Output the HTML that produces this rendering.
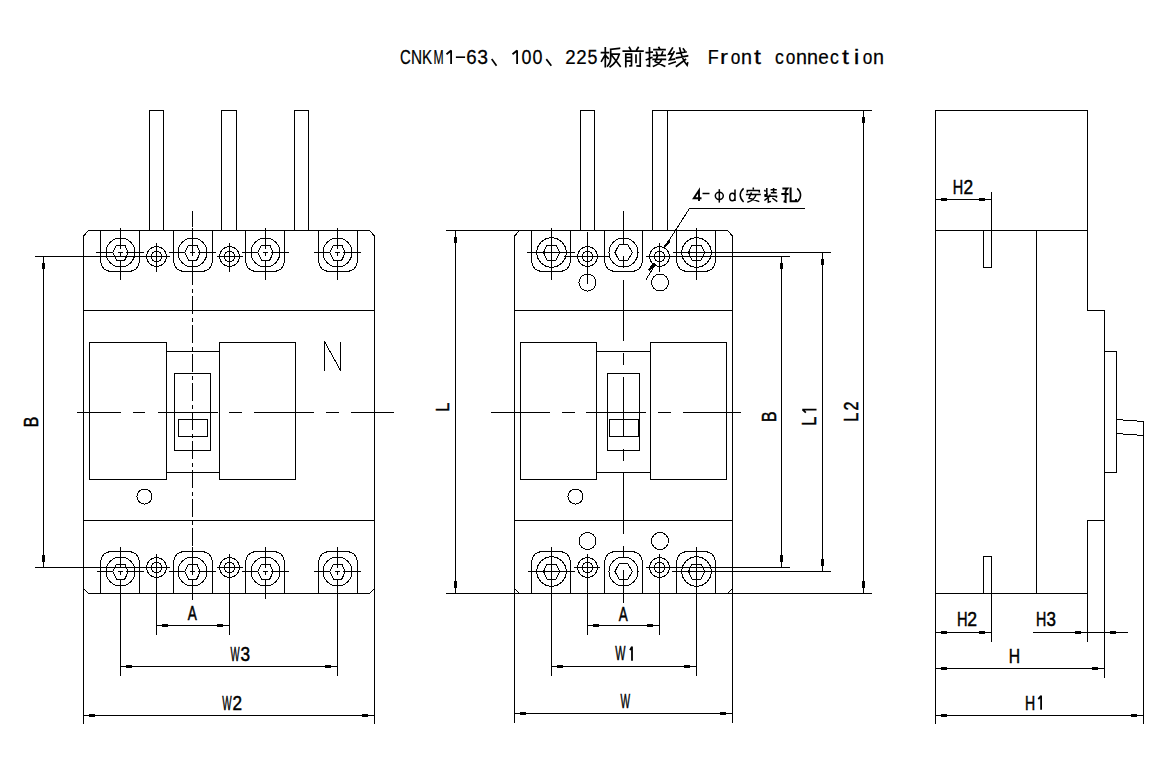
<!DOCTYPE html>
<html><head><meta charset="utf-8"><style>
html,body{margin:0;padding:0;background:#fff;}
body{width:1176px;height:760px;overflow:hidden;}
svg{display:block;}
.s line,.s path,.s circle,.s rect,.s polygon{fill:none;stroke:#000;stroke-width:1;}
.s line,.s rect,.s path,.s circle,.s polygon{shape-rendering:crispEdges;}
.s .f{fill:#000;stroke:none;}
.t{font-family:"Liberation Sans",sans-serif;fill:#000;stroke:#000;stroke-width:0.5;}
.g1{fill:none;stroke:#000;stroke-width:1.8;}
.tt{font-family:"Liberation Sans",sans-serif;fill:#000;stroke:#000;stroke-width:0.25;}
.m{font-family:"Liberation Mono",monospace;fill:#000;stroke:#000;stroke-width:0.35;}
.cj path{fill:none;stroke:#000;stroke-width:1.7;stroke-linecap:square;}
.cj2 path,.cj2 ellipse{fill:none;stroke:#000;stroke-width:1.5;}
.cj3 path{fill:none;stroke:#000;stroke-width:2;}
</style></head><body>
<svg width="1176" height="760" viewBox="0 0 1176 760">
<rect x="0" y="0" width="1176" height="760" fill="#fff"/>
<g class="s">
<path d="M149.5 230.5V110.5H163.5V230.5"/>
<path d="M221.5 230.5V110.5H236.5V230.5"/>
<path d="M294.5 230.5V110.5H308.5V230.5"/>
<path d="M83.5 236V588.5L88.5 593.5H369.5L374.5 588.5V236L369.5 230.5H88.5Z"/>
<line x1="83.5" y1="310.5" x2="374.5" y2="310.5"/>
<line x1="83.5" y1="520.5" x2="374.5" y2="520.5"/>
<rect x="89.5" y="342.5" width="77" height="137"/>
<rect x="219.5" y="342.5" width="76" height="137"/>
<line x1="166.5" y1="351.5" x2="219.5" y2="351.5"/>
<line x1="166.5" y1="472.5" x2="219.5" y2="472.5"/>
<rect x="174.5" y="373.5" width="36" height="77"/>
<rect x="178.5" y="419.5" width="29" height="17"/>
<circle cx="144.5" cy="496.5" r="7.5"/>
<path d="M100.5 230.5V259Q100.5 271.5 112.5 271.5H127.5Q139.5 271.5 139.5 259V230.5"/>
<circle cx="120.5" cy="252.5" r="14.5"/>
<polygon points="112.7,252.5 116.5,245 124.8,245 128.3,252.5 124.8,260 116.5,260"/>
<line x1="118" y1="252.5" x2="122.5" y2="252.5"/>
<line x1="120.5" y1="252.5" x2="120.5" y2="255.5"/>
<line x1="96" y1="252.5" x2="113" y2="252.5"/>
<line x1="125.5" y1="252.5" x2="143.5" y2="252.5"/>
<line x1="120.5" y1="228" x2="120.5" y2="248.5"/>
<line x1="120.5" y1="260" x2="120.5" y2="280"/>
<path d="M173.5 230.5V259Q173.5 271.5 185.5 271.5H200.5Q212.5 271.5 212.5 259V230.5"/>
<circle cx="192.5" cy="252.5" r="14.5"/>
<polygon points="184.7,252.5 188.5,245 196.8,245 200.3,252.5 196.8,260 188.5,260"/>
<line x1="190" y1="252.5" x2="194.5" y2="252.5"/>
<line x1="192.5" y1="252.5" x2="192.5" y2="255.5"/>
<line x1="168.5" y1="252.5" x2="185" y2="252.5"/>
<line x1="197.5" y1="252.5" x2="216" y2="252.5"/>
<line x1="192.5" y1="228" x2="192.5" y2="248.5"/>
<line x1="192.5" y1="260" x2="192.5" y2="280"/>
<path d="M245.5 230.5V259Q245.5 271.5 257.5 271.5H272.5Q284.5 271.5 284.5 259V230.5"/>
<circle cx="265.5" cy="252.5" r="14.5"/>
<polygon points="257.7,252.5 261.5,245 269.8,245 273.3,252.5 269.8,260 261.5,260"/>
<line x1="263" y1="252.5" x2="267.5" y2="252.5"/>
<line x1="265.5" y1="252.5" x2="265.5" y2="255.5"/>
<line x1="241.5" y1="252.5" x2="258" y2="252.5"/>
<line x1="270.5" y1="252.5" x2="289" y2="252.5"/>
<line x1="265.5" y1="228" x2="265.5" y2="248.5"/>
<line x1="265.5" y1="260" x2="265.5" y2="280"/>
<path d="M318.5 230.5V259Q318.5 271.5 330.5 271.5H345.5Q357.5 271.5 357.5 259V230.5"/>
<circle cx="337.5" cy="252.5" r="14.5"/>
<polygon points="329.7,252.5 333.5,245 341.8,245 345.3,252.5 341.8,260 333.5,260"/>
<line x1="335" y1="252.5" x2="339.5" y2="252.5"/>
<line x1="337.5" y1="252.5" x2="337.5" y2="255.5"/>
<line x1="313.5" y1="252.5" x2="330" y2="252.5"/>
<line x1="342.5" y1="252.5" x2="361" y2="252.5"/>
<line x1="337.5" y1="228" x2="337.5" y2="248.5"/>
<line x1="337.5" y1="260" x2="337.5" y2="280"/>
<circle cx="156.5" cy="256.5" r="10"/>
<circle cx="156.5" cy="256.5" r="5.3"/>
<line x1="156.5" y1="243" x2="156.5" y2="271.5"/>
<circle cx="229.5" cy="256.5" r="10"/>
<circle cx="229.5" cy="256.5" r="5.3"/>
<line x1="229.5" y1="243" x2="229.5" y2="271.5"/>
<line x1="216.5" y1="256.5" x2="242.5" y2="256.5"/>
<line x1="35" y1="256.5" x2="169.5" y2="256.5"/>
<path d="M100.5 593.5V564Q100.5 551.5 112.5 551.5H127.5Q139.5 551.5 139.5 564V593.5"/>
<circle cx="120.5" cy="571.5" r="14.5"/>
<polygon points="112.7,571.5 116.5,564 124.8,564 128.3,571.5 124.8,579 116.5,579"/>
<line x1="118" y1="571.5" x2="122.5" y2="571.5"/>
<line x1="120.5" y1="571.5" x2="120.5" y2="574.5"/>
<line x1="96.5" y1="571.5" x2="113" y2="571.5"/>
<line x1="125.5" y1="571.5" x2="144" y2="571.5"/>
<line x1="120.5" y1="547" x2="120.5" y2="567.5"/>
<line x1="120.5" y1="579" x2="120.5" y2="675.5"/>
<path d="M173.5 593.5V564Q173.5 551.5 185.5 551.5H200.5Q212.5 551.5 212.5 564V593.5"/>
<circle cx="192.5" cy="571.5" r="14.5"/>
<polygon points="184.7,571.5 188.5,564 196.8,564 200.3,571.5 196.8,579 188.5,579"/>
<line x1="190" y1="571.5" x2="194.5" y2="571.5"/>
<line x1="192.5" y1="571.5" x2="192.5" y2="574.5"/>
<line x1="168.5" y1="571.5" x2="185" y2="571.5"/>
<line x1="197.5" y1="571.5" x2="216" y2="571.5"/>
<line x1="192.5" y1="547" x2="192.5" y2="567.5"/>
<line x1="192.5" y1="579" x2="192.5" y2="600"/>
<path d="M245.5 593.5V564Q245.5 551.5 257.5 551.5H272.5Q284.5 551.5 284.5 564V593.5"/>
<circle cx="265.5" cy="571.5" r="14.5"/>
<polygon points="257.7,571.5 261.5,564 269.8,564 273.3,571.5 269.8,579 261.5,579"/>
<line x1="263" y1="571.5" x2="267.5" y2="571.5"/>
<line x1="265.5" y1="571.5" x2="265.5" y2="574.5"/>
<line x1="241.5" y1="571.5" x2="258" y2="571.5"/>
<line x1="270.5" y1="571.5" x2="289" y2="571.5"/>
<line x1="265.5" y1="547" x2="265.5" y2="567.5"/>
<line x1="265.5" y1="579" x2="265.5" y2="598.5"/>
<path d="M318.5 593.5V564Q318.5 551.5 330.5 551.5H345.5Q357.5 551.5 357.5 564V593.5"/>
<circle cx="337.5" cy="571.5" r="14.5"/>
<polygon points="329.7,571.5 333.5,564 341.8,564 345.3,571.5 341.8,579 333.5,579"/>
<line x1="335" y1="571.5" x2="339.5" y2="571.5"/>
<line x1="337.5" y1="571.5" x2="337.5" y2="574.5"/>
<line x1="313.5" y1="571.5" x2="330" y2="571.5"/>
<line x1="342.5" y1="571.5" x2="361" y2="571.5"/>
<line x1="337.5" y1="547" x2="337.5" y2="567.5"/>
<line x1="337.5" y1="579" x2="337.5" y2="675.5"/>
<circle cx="156.5" cy="567.5" r="10"/>
<circle cx="156.5" cy="567.5" r="5.3"/>
<line x1="156.5" y1="554" x2="156.5" y2="634.5"/>
<circle cx="229.5" cy="567.5" r="10"/>
<circle cx="229.5" cy="567.5" r="5.3"/>
<line x1="229.5" y1="554" x2="229.5" y2="634.5"/>
<line x1="216.5" y1="567.5" x2="242.5" y2="567.5"/>
<line x1="35" y1="567.5" x2="170" y2="567.5"/>
<path d="M324.5 371V341.5L340.5 370.5V342"/>
<g class="cl">
<line x1="77" y1="412.5" x2="120.5" y2="412.5"/>
<line x1="133" y1="412.5" x2="145" y2="412.5"/>
<line x1="157.5" y1="412.5" x2="217.5" y2="412.5"/>
<line x1="229" y1="412.5" x2="242" y2="412.5"/>
<line x1="254" y1="412.5" x2="313.5" y2="412.5"/>
<line x1="326" y1="412.5" x2="338.5" y2="412.5"/>
<line x1="350.5" y1="412.5" x2="394" y2="412.5"/>
</g>
<line x1="192.5" y1="211" x2="192.5" y2="227.3"/>
<line x1="192.5" y1="230.8" x2="192.5" y2="234.8"/>
<line x1="192.5" y1="237.8" x2="192.5" y2="256.3"/>
<line x1="192.5" y1="259.8" x2="192.5" y2="263.8"/>
<line x1="192.5" y1="266.8" x2="192.5" y2="285.3"/>
<line x1="192.5" y1="288.8" x2="192.5" y2="292.8"/>
<line x1="192.5" y1="295.8" x2="192.5" y2="314.3"/>
<line x1="192.5" y1="317.8" x2="192.5" y2="321.8"/>
<line x1="192.5" y1="324.8" x2="192.5" y2="343.3"/>
<line x1="192.5" y1="346.8" x2="192.5" y2="350.8"/>
<line x1="192.5" y1="353.8" x2="192.5" y2="372.3"/>
<line x1="192.5" y1="375.8" x2="192.5" y2="379.8"/>
<line x1="192.5" y1="382.8" x2="192.5" y2="401.3"/>
<line x1="192.5" y1="404.8" x2="192.5" y2="408.8"/>
<line x1="192.5" y1="411.8" x2="192.5" y2="430.3"/>
<line x1="192.5" y1="433.8" x2="192.5" y2="437.8"/>
<line x1="192.5" y1="440.8" x2="192.5" y2="459.3"/>
<line x1="192.5" y1="462.8" x2="192.5" y2="466.8"/>
<line x1="192.5" y1="469.8" x2="192.5" y2="488.3"/>
<line x1="192.5" y1="491.8" x2="192.5" y2="495.8"/>
<line x1="192.5" y1="498.8" x2="192.5" y2="517.3"/>
<line x1="192.5" y1="520.8" x2="192.5" y2="524.8"/>
<line x1="192.5" y1="527.8" x2="192.5" y2="546.3"/>
<line x1="192.5" y1="549.8" x2="192.5" y2="553.8"/>
<line x1="192.5" y1="556.8" x2="192.5" y2="575.3"/>
<line x1="192.5" y1="578.8" x2="192.5" y2="582.8"/>
<line x1="192.5" y1="585.8" x2="192.5" y2="600"/>
<line x1="43.5" y1="256.5" x2="43.5" y2="567.5"/>
<rect x="42" y="262.5" width="3" height="6" class="f"/>
<rect x="42" y="554.5" width="3" height="7" class="f"/>
<line x1="156.5" y1="625.5" x2="229.5" y2="625.5"/>
<rect x="162" y="624" width="6" height="3" class="f"/>
<rect x="216.5" y="624" width="6" height="3" class="f"/>
<line x1="120.5" y1="666.5" x2="337.5" y2="666.5"/>
<rect x="126" y="665" width="6" height="3" class="f"/>
<rect x="324.5" y="665" width="6" height="3" class="f"/>
<line x1="83.5" y1="588" x2="83.5" y2="723.5"/>
<line x1="374.5" y1="588" x2="374.5" y2="723.5"/>
<line x1="83.5" y1="715.5" x2="374.5" y2="715.5"/>
<rect x="89" y="714" width="6" height="3" class="f"/>
<rect x="361.5" y="714" width="6" height="3" class="f"/>
<path d="M580.5 230.5V110.5H594.5V230.5"/>
<path d="M652.5 230.5V110.5H667.5V230.5"/>
<path d="M514.5 236V588.5L519.5 593.5H727.5L732.5 588.5V236L727.5 230.5H519.5Z"/>
<line x1="514.5" y1="310.5" x2="732.5" y2="310.5"/>
<line x1="514.5" y1="520.5" x2="732.5" y2="520.5"/>
<rect x="520.5" y="342.5" width="76" height="137"/>
<rect x="650.5" y="342.5" width="76" height="137"/>
<line x1="596.5" y1="351.5" x2="650.5" y2="351.5"/>
<line x1="596.5" y1="472.5" x2="650.5" y2="472.5"/>
<rect x="607.5" y="373.5" width="32" height="77"/>
<rect x="609.5" y="419.5" width="29" height="17"/>
<circle cx="575.5" cy="496.5" r="7.5"/>
<path d="M531.5 230.5V259Q531.5 271.5 543.5 271.5H558.5Q570.5 271.5 570.5 259V230.5"/>
<circle cx="551.5" cy="252.5" r="14.75"/>
<polygon points="543.5,252.5 547.1,245 556.1,245 559.7,252.5 556.1,260 547.1,260"/>
<line x1="527" y1="252.5" x2="575" y2="252.5"/>
<line x1="551.5" y1="228" x2="551.5" y2="280"/>
<path d="M604.5 230.5V259Q604.5 271.5 616.5 271.5H630.5Q642.5 271.5 642.5 259V230.5"/>
<circle cx="623.5" cy="252.5" r="14.5"/>
<polygon points="615,252.5 619,244.8 627.8,244.8 632.3,252.5 627.8,260.2 619,260.2"/>
<line x1="623.5" y1="211" x2="623.5" y2="244"/>
<line x1="623.5" y1="256" x2="623.5" y2="267.5"/>
<path d="M676.5 230.5V259Q676.5 271.5 688.5 271.5H703.5Q715.5 271.5 715.5 259V230.5"/>
<circle cx="696.5" cy="252.5" r="14.75"/>
<polygon points="688.5,252.5 692.1,245 701.1,245 704.7,252.5 701.1,260 692.1,260"/>
<line x1="672.5" y1="252.5" x2="831" y2="252.5"/>
<line x1="696.5" y1="228" x2="696.5" y2="280"/>
<circle cx="587.5" cy="256.5" r="10"/>
<circle cx="587.5" cy="256.5" r="5.3"/>
<line x1="587.5" y1="232" x2="587.5" y2="283.5"/>
<circle cx="659.5" cy="256.5" r="10"/>
<circle cx="659.5" cy="256.5" r="5.3"/>
<line x1="659.5" y1="243" x2="659.5" y2="271.5"/>
<line x1="563.5" y1="256.5" x2="610" y2="256.5"/>
<line x1="646" y1="256.5" x2="790" y2="256.5"/>
<circle cx="587.5" cy="282.5" r="8.5"/>
<circle cx="660" cy="282.5" r="8.5"/>
<path d="M531.5 593.5V564Q531.5 551.5 543.5 551.5H558.5Q570.5 551.5 570.5 564V593.5"/>
<circle cx="551.5" cy="571.5" r="14.75"/>
<polygon points="543.5,571.5 547.1,564 556.1,564 559.7,571.5 556.1,579 547.1,579"/>
<line x1="527.5" y1="571.5" x2="575" y2="571.5"/>
<line x1="551.5" y1="547" x2="551.5" y2="675.5"/>
<path d="M604.5 593.5V564Q604.5 551.5 616.5 551.5H630.5Q642.5 551.5 642.5 564V593.5"/>
<circle cx="623.5" cy="571.5" r="14.5"/>
<polygon points="615,571.5 619,563.8 627.8,563.8 632.3,571.5 627.8,579.2 619,579.2"/>
<line x1="623.5" y1="546" x2="623.5" y2="557"/>
<line x1="623.5" y1="570" x2="623.5" y2="603"/>
<path d="M676.5 593.5V564Q676.5 551.5 688.5 551.5H703.5Q715.5 551.5 715.5 564V593.5"/>
<circle cx="696.5" cy="571.5" r="14.75"/>
<polygon points="688.5,571.5 692.1,564 701.1,564 704.7,571.5 701.1,579 692.1,579"/>
<line x1="672" y1="571.5" x2="831" y2="571.5"/>
<line x1="696.5" y1="547" x2="696.5" y2="675.5"/>
<circle cx="587.5" cy="567.5" r="10"/>
<circle cx="587.5" cy="567.5" r="5.3"/>
<line x1="587.5" y1="554" x2="587.5" y2="634.5"/>
<circle cx="659.5" cy="567.5" r="10"/>
<circle cx="659.5" cy="567.5" r="5.3"/>
<line x1="659.5" y1="554" x2="659.5" y2="634.5"/>
<line x1="573.5" y1="567.5" x2="600" y2="567.5"/>
<line x1="646" y1="567.5" x2="790" y2="567.5"/>
<circle cx="587.5" cy="541" r="8.5"/>
<circle cx="660" cy="541" r="8.5"/>
<line x1="623.5" y1="280" x2="623.5" y2="341"/>
<line x1="623.5" y1="353" x2="623.5" y2="365"/>
<line x1="623.5" y1="377" x2="623.5" y2="436.5"/>
<line x1="623.5" y1="449" x2="623.5" y2="460.5"/>
<line x1="623.5" y1="472.5" x2="623.5" y2="534"/>
<g class="cl">
<line x1="491" y1="412.5" x2="550" y2="412.5"/>
<line x1="562" y1="412.5" x2="574.5" y2="412.5"/>
<line x1="586" y1="412.5" x2="645.5" y2="412.5"/>
<line x1="658" y1="412.5" x2="671" y2="412.5"/>
<line x1="683" y1="412.5" x2="741" y2="412.5"/>
</g>
<line x1="445.5" y1="230.5" x2="519.5" y2="230.5"/>
<line x1="445.5" y1="593.5" x2="519.5" y2="593.5"/>
<line x1="455.5" y1="230.5" x2="455.5" y2="593.5"/>
<rect x="454" y="236.5" width="3" height="6" class="f"/>
<rect x="454" y="580.5" width="3" height="7" class="f"/>
<line x1="587.5" y1="625.5" x2="659.5" y2="625.5"/>
<rect x="593" y="624" width="6" height="3" class="f"/>
<rect x="646.5" y="624" width="6" height="3" class="f"/>
<line x1="551.5" y1="666.5" x2="696.5" y2="666.5"/>
<rect x="557" y="665" width="6" height="3" class="f"/>
<rect x="683.5" y="665" width="6" height="3" class="f"/>
<line x1="514.5" y1="588" x2="514.5" y2="722.5"/>
<line x1="732.5" y1="588" x2="732.5" y2="722.5"/>
<line x1="514.5" y1="713.5" x2="732.5" y2="713.5"/>
<rect x="520" y="712" width="6" height="3" class="f"/>
<rect x="719.5" y="712" width="6" height="3" class="f"/>
<line x1="781.5" y1="256.5" x2="781.5" y2="567.5"/>
<rect x="780" y="262.5" width="3" height="6" class="f"/>
<rect x="780" y="554.5" width="3" height="7" class="f"/>
<line x1="822.5" y1="252.5" x2="822.5" y2="571.5"/>
<rect x="821" y="258.5" width="3" height="6" class="f"/>
<rect x="821" y="558.5" width="3" height="7" class="f"/>
<line x1="667.5" y1="110.5" x2="871.5" y2="110.5"/>
<line x1="727.5" y1="593.5" x2="871.5" y2="593.5"/>
<line x1="863.5" y1="110.5" x2="863.5" y2="593.5"/>
<rect x="862" y="116.5" width="3" height="6" class="f"/>
<rect x="862" y="580.5" width="3" height="7" class="f"/>
<path d="M804.5 208.5H689.5L664.5 247.5"/>
<path d="M655.5 264L645.5 280.5"/>
<polygon class="f" points="664.5,247.5 670.5,242 668,240.5 663.5,246.5"/>
<polygon class="f" points="650,271 656,264 653.5,262.5 648,269.5"/>
<path d="M935.5 723.5V110.5H1087.5V310.5H1104.5V677.5"/>
<line x1="935.5" y1="230.5" x2="1087.5" y2="230.5"/>
<line x1="1036.5" y1="230.5" x2="1036.5" y2="593.5"/>
<path d="M1104.5 520.5H1087.5V641.5"/>
<line x1="935.5" y1="593.5" x2="1087.5" y2="593.5"/>
<rect x="1104.5" y="351.5" width="12" height="121"/>
<path d="M1116.5 419.5L1143.5 421.5V435.5L1116.5 433.5"/>
<line x1="1143.5" y1="421.5" x2="1143.5" y2="723.5"/>
<path d="M983.5 230.5V267.5H991.5V191.5"/>
<path d="M983.5 593.5V556.5H991.5V641.5"/>
<line x1="935.5" y1="199.5" x2="991.5" y2="199.5"/>
<rect x="941" y="198" width="6" height="3" class="f"/>
<rect x="978.5" y="198" width="6" height="3" class="f"/>
<line x1="935.5" y1="632.5" x2="991.5" y2="632.5"/>
<rect x="941" y="631" width="6" height="3" class="f"/>
<rect x="978.5" y="631" width="6" height="3" class="f"/>
<line x1="1033" y1="632.5" x2="1128" y2="632.5"/>
<rect x="1074.5" y="631" width="6" height="3" class="f"/>
<rect x="1110" y="631" width="6" height="3" class="f"/>
<line x1="935.5" y1="668.5" x2="1104.5" y2="668.5"/>
<rect x="941" y="667" width="6" height="3" class="f"/>
<rect x="1091.5" y="667" width="6" height="3" class="f"/>
<line x1="935.5" y1="715.5" x2="1143.5" y2="715.5"/>
<rect x="941" y="714" width="6" height="3" class="f"/>
<rect x="1130.5" y="714" width="6" height="3" class="f"/>
</g>
<g>
<text class="t" font-size="19.71" transform="translate(187.68 620.35) scale(0.692 1)">A</text>
<text class="t" font-size="19.86" transform="translate(230.50 660.55) scale(0.485 1)">W</text>
<text class="t" font-size="19.57" transform="translate(240.56 660.55) scale(0.881 1)">3</text>
<text class="t" font-size="20.00" transform="translate(222.30 709.55) scale(0.497 1)">W</text>
<text class="t" font-size="19.71" transform="translate(232.59 709.55) scale(0.870 1)">2</text>
<text class="t" font-size="20.15" transform="translate(618.78 620.55) scale(0.669 1)">A</text>
<text class="t" font-size="19.86" transform="translate(615.20 660.45) scale(0.544 1)">W</text>
<path class="g1" d="M632.00 646.50V660.70M632.00 646.80L630.00 650.10"/>
<text class="t" font-size="19.42" transform="translate(620.45 707.65) scale(0.523 1)">W</text>
<text class="t" font-size="20.00" transform="translate(952.79 193.65) scale(0.723 1)">H</text>
<text class="t" font-size="19.71" transform="translate(963.38 193.65) scale(0.881 1)">2</text>
<text class="t" font-size="19.71" transform="translate(957.08 626.45) scale(0.743 1)">H</text>
<text class="t" font-size="19.43" transform="translate(967.37 626.45) scale(0.905 1)">2</text>
<text class="t" font-size="20.00" transform="translate(1035.91 626.45) scale(0.714 1)">H</text>
<text class="t" font-size="19.71" transform="translate(1046.57 626.45) scale(0.863 1)">3</text>
<text class="t" font-size="20.00" transform="translate(1008.69 662.65) scale(0.786 1)">H</text>
<text class="t" font-size="20.00" transform="translate(1025.12 709.55) scale(0.705 1)">H</text>
<path class="g1" d="M1041.10 695.50V709.80M1041.10 695.80L1038.30 699.10"/>
<text class="t" font-size="19.86" transform="translate(37.65 427.33) rotate(-90) scale(0.805 1)">B</text>
<text class="t" font-size="19.28" transform="translate(449.25 411.86) rotate(-90) scale(0.851 1)">L</text>
<text class="t" font-size="20.14" transform="translate(775.75 422.02) rotate(-90) scale(0.789 1)">B</text>
<text class="t" font-size="19.93" transform="translate(816.25 425.86) rotate(-90) scale(0.823 1)">L</text>
<path class="g1" d="M802.25 409.60H816.50M802.55 409.60L805.85 412.60"/>
<text class="t" font-size="20.43" transform="translate(857.65 422.00) rotate(-90) scale(0.825 1)">L</text>
<text class="t" font-size="20.14" transform="translate(857.65 410.45) rotate(-90) scale(0.797 1)">2</text>
</g>
<text class="tt" font-size="20.8" transform="translate(400.05 64) scale(0.717 1)">C</text>
<text class="tt" font-size="20.8" transform="translate(410.97 64) scale(0.738 1)">N</text>
<text class="tt" font-size="20.8" transform="translate(421.94 64) scale(0.727 1)">K</text>
<text class="tt" font-size="20.8" transform="translate(433.42 64) scale(0.588 1)">M</text>
<path class="g1" d="M451.10 50.2V64M451.10 50.5L446.50 54.2"/>
<rect x="455.90" y="56.4" width="9.2" height="1.6" fill="#000"/>
<text class="tt" font-size="20.8" transform="translate(466.27 64) scale(0.899 1)">6</text>
<text class="tt" font-size="20.8" transform="translate(477.18 64) scale(0.931 1)">3</text>
<path class="g1" d="M517.10 50.2V64M517.10 50.5L512.50 54.2"/>
<text class="tt" font-size="20.8" transform="translate(521.53 64) scale(0.860 1)">0</text>
<text class="tt" font-size="20.8" transform="translate(532.53 64) scale(0.860 1)">0</text>
<text class="tt" font-size="20.8" transform="translate(565.32 64) scale(0.898 1)">2</text>
<text class="tt" font-size="20.8" transform="translate(576.32 64) scale(0.898 1)">2</text>
<text class="tt" font-size="20.8" transform="translate(587.53 64) scale(0.860 1)">5</text>
<text class="tt" font-size="20.8" transform="translate(707.66 64) scale(0.863 1)">F</text>
<text class="tt" font-size="20.8" transform="translate(719.94 64) scale(1.154 1)">r</text>
<text class="tt" font-size="20.8" transform="translate(730.71 64) scale(0.830 1)">o</text>
<text class="tt" font-size="20.8" transform="translate(741.02 64) scale(0.950 1)">n</text>
<text class="tt" font-size="20.8" transform="translate(753.92 64) scale(1.207 1)">t</text>
<text class="tt" font-size="20.8" transform="translate(774.90 64) scale(0.850 1)">c</text>
<text class="tt" font-size="20.8" transform="translate(785.71 64) scale(0.830 1)">o</text>
<text class="tt" font-size="20.8" transform="translate(796.02 64) scale(0.950 1)">n</text>
<text class="tt" font-size="20.8" transform="translate(807.02 64) scale(0.950 1)">n</text>
<text class="tt" font-size="20.8" transform="translate(818.25 64) scale(0.910 1)">e</text>
<text class="tt" font-size="20.8" transform="translate(829.90 64) scale(0.850 1)">c</text>
<text class="tt" font-size="20.8" transform="translate(841.92 64) scale(1.207 1)">t</text>
<text class="tt" font-size="20.8" transform="translate(853.69 64) scale(1.229 1)">i</text>
<text class="tt" font-size="20.8" transform="translate(862.71 64) scale(0.830 1)">o</text>
<text class="tt" font-size="20.8" transform="translate(873.02 64) scale(0.950 1)">n</text>
<g class="cj">
<path d="M492.2 59.8L496 65"/>
<path d="M546.8 59.8L550.8 65"/>
<g transform="translate(601.5 47.5)">
<path d="M0 5.1H6.9M3.8 0.4V19.2M3.8 7.1L0 13.6M4.7 8.7L6.7 10.8M9.2 1.8L17.9 0.8M9.2 1.8V10.8Q9.2 15.5 6.1 18.5M9.5 6.7H17.7M10.4 7.9L18.7 18.7M17.7 6.7Q15.5 14.5 8.7 19.2"/>
</g>
<g transform="translate(623 47.5)">
<path d="M6.4 0L7.6 2.2M15.2 0L13.8 2.2M0.3 3.6H19.9M2.8 19.2V6.7H8.5V18.2L7 18.4M2.8 10H8.5M2.8 13.6H8.5M13 7.5V14.9M17.2 5.9V18.7L14.2 18.5"/>
</g>
<g transform="translate(646 47.5)">
<path d="M0.3 5.1L6.2 4.7M3.5 0.4V18.7L1.3 18.2M0.5 12.2L5.8 10M12.9 0L13.7 1.4M8 2.2H19M10.5 4.7L11 6.7M16.6 4.5L15.8 6.7M7.6 7.9H19.2M7.2 11.8H19.4M11.5 8.7L9.2 14.1L18.6 18.7M15.8 11.8Q14 16.5 7.6 18.7"/>
</g>
<g transform="translate(668 47.5)">
<path d="M4.4 0.6L0.7 6.7L4.8 6.2M6 4.3L1.5 12.4L6.4 11.6M1.1 16.5L7.2 14.5M8.9 5.9L17.9 4.5M8.5 10.4L19.5 8.3M11.7 0.6Q14 12 19.1 17.7L19.6 15.5M17.4 12L8.5 18.7M15.4 1.4L16.6 3"/>
</g>
</g>
<g class="cj2">
<path d="M699 201V190.5L693.8 198.3H701.5" style="stroke-width:1.9"/>
<path d="M702.5 193.5H709.5"/>
<ellipse cx="719.3" cy="195.8" rx="4" ry="3.6"/>
<path d="M719.3 189.2V202.6"/>
<path d="M735 189.5V201M735 197Q735 193.2 732.3 193.2Q729.7 193.2 729.7 197Q729.7 200.8 732.3 200.8Q735 200.8 735 197"/>
<path d="M743.6 188.4Q740.2 191.5 740.2 195Q740.2 198.7 743.6 202"/>
<path d="M797.2 188.4Q800.6 191.5 800.6 195Q800.6 198.7 797.2 202"/>
<path d="M753.3 187.6V189.6M747.3 192.6V190.6H759.3V192.6M745.9 194.6H760.8M751.5 192.4L749 198L759.3 201.6M756 194.6Q754.8 200 747.3 202.3"/>
<path d="M766.8 188V195.5M764.4 190L765.6 191.5M764.2 195.3L767.8 193.5M770.6 189.8H776.8M773.6 188V192.8M770.8 192.8H776.6M769.6 194.5L770.3 195.5M764.4 196.3H777.3M769.5 196.3L764.4 200.5M768.3 198.3V202.2L771 201.4M772.3 198L777.3 201.6M775.6 197.3L777 196.7"/>
</g>
<g class="cj3">
<path d="M782.4 188.6H787.4L785.6 191M785.6 191V201.8L783.6 201.2M781.3 194H788.6M790.6 187.5V201.2H796V199"/>
</g>
</svg></body></html>
